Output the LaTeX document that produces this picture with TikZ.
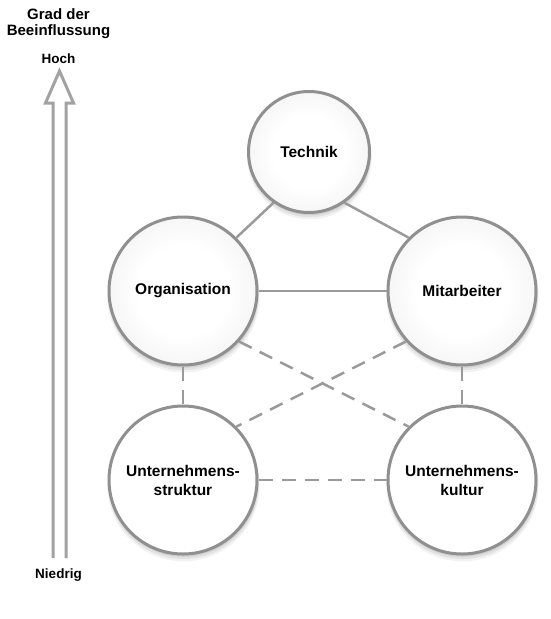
\documentclass[tikz,border=0pt]{standalone}
\usepackage{fontspec}
\setmainfont{Liberation Sans}
\usetikzlibrary{positioning, shadows}

\definecolor{linegray}{HTML}{9A9A9A}
\definecolor{rimgray}{HTML}{909090}
\definecolor{arrowgray}{HTML}{A2A2A2}
\pgfdeclareradialshading{softball}{\pgfpoint{0bp}{0bp}}{color(0bp)=(white); color(15bp)=(white); color(50bp)=(black!12); color(100bp)=(black!12)}

\begin{document}
\begin{tikzpicture}[
    x=1pt, y=-1pt,
    factor/.style={circle, draw=rimgray, line width=3pt, minimum size=148pt, inner sep=0pt, align=center, font=\fontsize{15.5}{19}\selectfont\bfseries,
        drop shadow={shadow xshift=0.5pt, shadow yshift=-5pt, shadow scale=1.03, opacity=0.10},
        drop shadow={shadow xshift=0.5pt, shadow yshift=-3.5pt, shadow scale=1.02, opacity=0.14},
        drop shadow={shadow xshift=0.5pt, shadow yshift=-2pt, shadow scale=1.01, opacity=0.18}},
    topfactor/.style={factor, shading=softball},
    basefactor/.style={factor, fill=white},
    link/.style={draw=linegray, line width=2.5pt},
    dashlink/.style={link, dash pattern=on 14pt off 9pt},
    axistext/.style={font=\fontsize{13.5}{16}\selectfont\bfseries, align=center, inner sep=0pt},
    bigarrow/.style={draw=arrowgray, line width=3pt, miter limit=10}
]
\useasboundingbox (0,0) rectangle (550,619);

\node[axistext, font=\fontsize{15}{16}\selectfont\bfseries] (grad) at (58.5,23.5) {Grad der\\Beeinflussung};
\node[axistext] (hoch) at (58.5,59) {Hoch};
\node[axistext] (niedrig) at (58.5,575) {Niedrig};

\draw[bigarrow] (53,558) -- (53,103) -- (45.5,103) -- (59.5,71) -- (73.5,103) -- (66,103) -- (66,558);

\node[topfactor, minimum size=121pt] (technik) at (309,152) {Technik};
\node[topfactor] (org) at (183,291) {Organisation};
\node[topfactor] (mit) at (462,291) {Mitarbeiter};
\node[basefactor, below=38pt of org] (struktur) {Unternehmens-\\struktur};
\node[basefactor, below=38pt of mit] (kultur) {Unternehmens-\\kultur};

\draw[link] (technik.235) -- (org.45);
\draw[link] (technik.-55) -- (mit.135);
\draw[link] (org) -- (mit);
\draw[dashlink] (org) -- (struktur);
\draw[dashlink] (mit) -- (kultur);
\draw[dashlink] (struktur) -- (kultur);
\draw[dashlink] (org.-42) -- (kultur.135);
\draw[dashlink] (mit.-138) -- (struktur.45);

\end{tikzpicture}
\end{document}
